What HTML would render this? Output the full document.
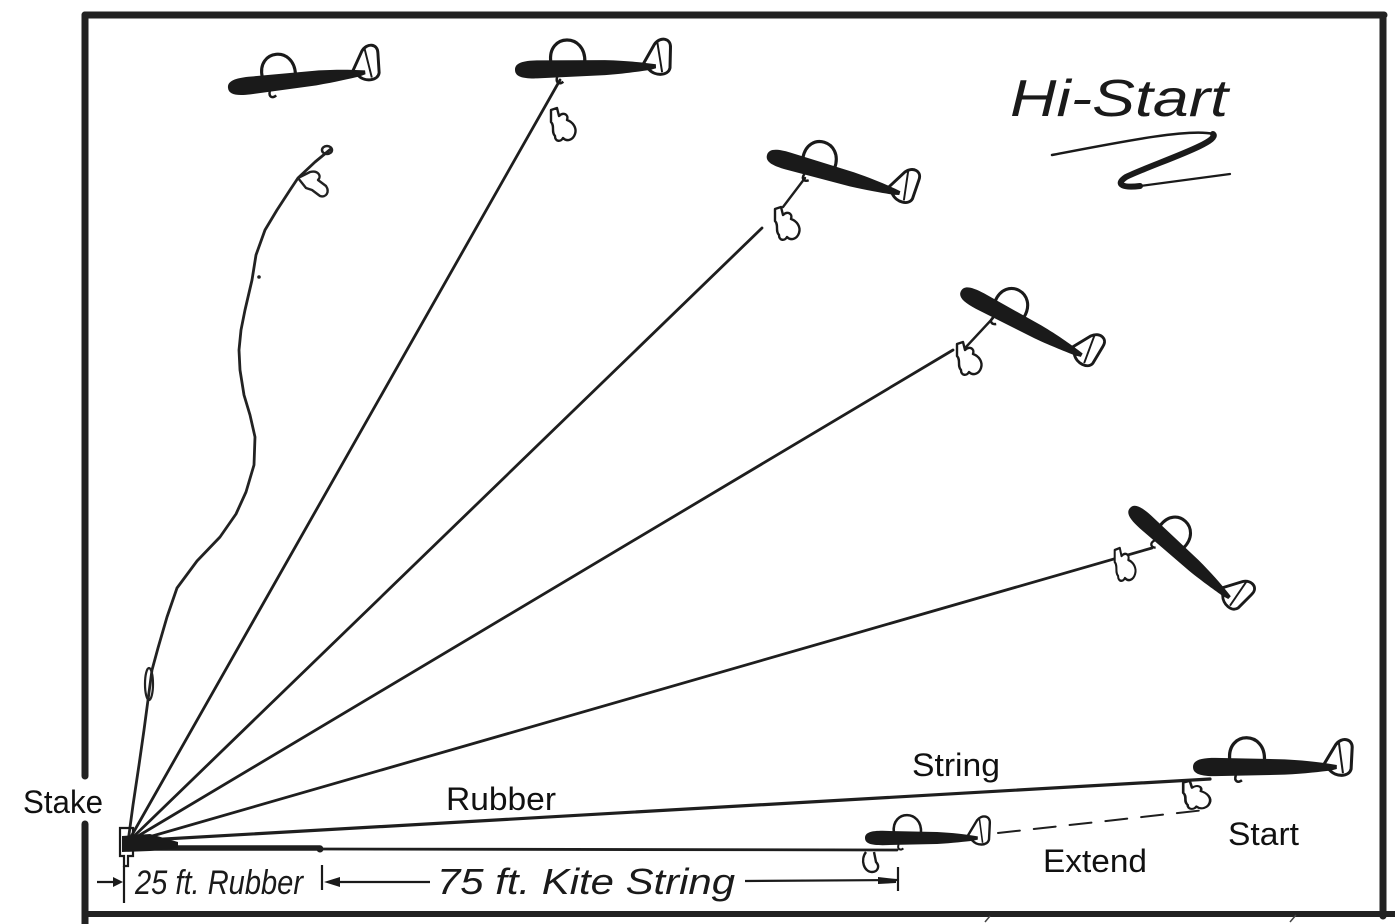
<!DOCTYPE html>
<html>
<head>
<meta charset="utf-8">
<style>
  html,body{margin:0;padding:0;background:#fff;}
  svg{display:block;}
  .lbl{font-family:"Liberation Sans",Arial,sans-serif;font-size:32px;fill:#111;}
  .hand{font-family:"Liberation Sans",Arial,sans-serif;font-style:italic;fill:#1a1a1a;}
</style>
</head>
<body>
<svg width="1395" height="924" viewBox="0 0 1395 924" xmlns="http://www.w3.org/2000/svg">
  <defs>
    <g id="gl">
      <path d="M0,0 C0,-7 8,-9 22,-9 L90,-7.5 C110,-6.5 125,-4.5 135,-3 L141,-2 L141,2 L135,3.5 C125,4.5 110,6.5 90,7.5 L22,9 C8,9 0,7 0,0 Z" fill="#1a1a1a"/>
      <path d="M36,-7 C33,-36 72,-36 70,-6" fill="none" stroke="#1a1a1a" stroke-width="3.2" stroke-linecap="round"/>
      <path d="M128,-2 L140,-22 C146,-30 157,-28 156,-18 L155,2 C153,10 140,10 134,3 Z" fill="none" stroke="#1a1a1a" stroke-width="3" stroke-linejoin="round"/>
      <path d="M143,-24 L147,6" fill="none" stroke="#1a1a1a" stroke-width="2"/>
      <path d="M42,8 C40,14 44,16 48,13" fill="none" stroke="#1a1a1a" stroke-width="2.5"/>
    </g>
    <path id="para" d="M2,2 L8,0 L10,8 C14,4 20,6 18,12 C24,14 28,20 26,26 C24,32 18,34 14,30 C12,34 6,34 6,28 C2,24 6,18 2,14 Z" fill="#fff" stroke="#1a1a1a" stroke-width="2.4" stroke-linejoin="round"/>
  </defs>

  <rect width="1395" height="924" fill="#fff"/>

  <!-- Border -->
  <g stroke="#222" fill="none" stroke-linecap="round">
    <line x1="85" y1="15" x2="1384" y2="15" stroke-width="7"/>
    <line x1="85" y1="15" x2="85" y2="776" stroke-width="7"/>
    <line x1="85" y1="824" x2="85" y2="924" stroke-width="7"/>
    <line x1="1383" y1="15" x2="1383" y2="916" stroke-width="7"/>
    <line x1="82" y1="914" x2="1395" y2="914" stroke-width="6" stroke-linecap="butt"/>
  </g>
  <path d="M985,922 L990,916 M1290,922 L1296,915" stroke="#444" stroke-width="1.5"/>

  <!-- Wavy line to glider 1 -->
  <polyline points="128,842 133,805 139,765 144,730 148,700 152,670 158,648 167,617 177,588 197,561 220,537 236,514 246,492 254,465 255,437 250,415 244,395 240,370 239,350 241,330 245,310 252,280 256,255 265,230 277,210 290,190 298,178 315,162 332,148" fill="none" stroke="#222" stroke-width="2.8" stroke-linejoin="round"/>
  <ellipse cx="149" cy="684" rx="4" ry="16" fill="none" stroke="#222" stroke-width="2.2"/>
  <ellipse cx="327" cy="150" rx="5" ry="4" fill="none" stroke="#222" stroke-width="2.5"/>
  <circle cx="259" cy="277" r="1.8" fill="#222"/>
  <path d="M298,178 L310,172 C318,170 322,176 318,180 L326,186 C330,192 326,198 320,196 L312,190 L306,188 Z" fill="#fff" stroke="#222" stroke-width="2.4" stroke-linejoin="round"/>

  <!-- Rays from stake -->
  <g stroke="#1e1e1e" fill="none" stroke-linecap="round">
    <line x1="128" y1="842" x2="560" y2="80" stroke-width="2.8"/>
    <line x1="128" y1="842" x2="762" y2="228" stroke-width="2.8"/>
    <line x1="128" y1="842" x2="953" y2="350" stroke-width="2.8"/>
    <line x1="128" y1="843" x2="1152" y2="548" stroke-width="2.8"/>
    <line x1="130" y1="841" x2="1210" y2="779" stroke-width="3.2"/>
    <line x1="320" y1="849" x2="897" y2="850" stroke-width="2.8"/>
    <line x1="130" y1="848" x2="320" y2="848" stroke-width="5.5"/>
    <line x1="783" y1="207" x2="805" y2="178" stroke-width="2.4"/>
    <line x1="966" y1="347" x2="993" y2="318" stroke-width="2.4"/>
    <line x1="998" y1="833" x2="1205" y2="810" stroke-width="2" stroke-dasharray="22 14"/>
  </g>
  <circle cx="320" cy="849" r="3.5" fill="#1e1e1e"/>
  <!-- stake blob -->
  <path d="M122,836 L150,834 L178,842 L178,848 L150,851 L122,852 Z" fill="#1a1a1a"/>
  <path d="M120,828 L133,828 L133,856 L128,856 L128,866 L124,866 L124,856 L120,856 Z" fill="none" stroke="#1a1a1a" stroke-width="2.2"/>

  <!-- Parachutes -->
  <use href="#para" transform="translate(549,108)"/>
  <use href="#para" transform="translate(773,207)"/>
  <use href="#para" transform="translate(955,342)"/>
  <use href="#para" transform="translate(1113,548) scale(0.85,1)"/>
  <use href="#para" transform="translate(1181,781) scale(1.1,0.85)"/>
  <path d="M866,852 C860,860 864,872 872,872 C878,872 880,866 876,862 L874,852" fill="none" stroke="#1a1a1a" stroke-width="2.4"/>

  <!-- Gliders -->
  <use href="#gl" transform="translate(228,88) rotate(-6.5) scale(0.98)"/>
  <use href="#gl" transform="translate(515,70) rotate(-1.5)"/>
  <use href="#gl" transform="translate(767,155) rotate(16) scale(0.98)"/>
  <use href="#gl" transform="translate(961,291) rotate(28) scale(0.97)"/>
  <use href="#gl" transform="translate(1130,508) rotate(42) scale(0.95)"/>
  <use href="#gl" transform="translate(1193,767) scale(1.02)"/>
  <use href="#gl" transform="translate(865,838) scale(0.8)"/>

  <!-- Title -->
  <text class="hand" x="1010" y="116" font-size="52" textLength="218" lengthAdjust="spacingAndGlyphs">Hi-Start</text>
  <path d="M1052,155 C1120,142 1190,128 1213,134" fill="none" stroke="#1a1a1a" stroke-width="2.5" stroke-linecap="round"/>
  <path d="M1213,134 C1222,142 1150,165 1126,177 C1114,185 1124,188 1140,186" fill="none" stroke="#1a1a1a" stroke-width="6" stroke-linecap="round"/>
  <path d="M1140,186 L1230,174" fill="none" stroke="#1a1a1a" stroke-width="2.2" stroke-linecap="round"/>

  <!-- Dimension line -->
  <g stroke="#1a1a1a" fill="none" stroke-width="2.2">
    <line x1="97" y1="882" x2="116" y2="882"/>
    <line x1="124" y1="866" x2="124" y2="903"/>
    <line x1="322" y1="865" x2="322" y2="890"/>
    <line x1="338" y1="882" x2="430" y2="882"/>
    <line x1="745" y1="881" x2="898" y2="880"/>
    <line x1="898" y1="867" x2="898" y2="891"/>
  </g>
  <path d="M113,877 L123,882 L113,887 Z" fill="#1a1a1a"/>
  <path d="M324,882 L340,877 L340,887 Z" fill="#1a1a1a"/>
  <path d="M878,877 L896,879 L896,883 L878,884 Z" fill="#1a1a1a"/>
  <text class="hand" x="135" y="894" font-size="34" textLength="168" lengthAdjust="spacingAndGlyphs">25 ft. Rubber</text>
  <text class="hand" x="437" y="894" font-size="36" textLength="298" lengthAdjust="spacingAndGlyphs">75 ft. Kite String</text>

  <!-- Labels -->
  <text class="lbl" x="23" y="813" textLength="80" lengthAdjust="spacingAndGlyphs">Stake</text>
  <text class="lbl" x="446" y="810" textLength="110" lengthAdjust="spacingAndGlyphs">Rubber</text>
  <text class="lbl" x="912" y="776" textLength="88" lengthAdjust="spacingAndGlyphs">String</text>
  <text class="lbl" x="1228" y="845" textLength="71" lengthAdjust="spacingAndGlyphs">Start</text>
  <text class="lbl" x="1043" y="872" textLength="104" lengthAdjust="spacingAndGlyphs">Extend</text>
</svg>
</body>
</html>
